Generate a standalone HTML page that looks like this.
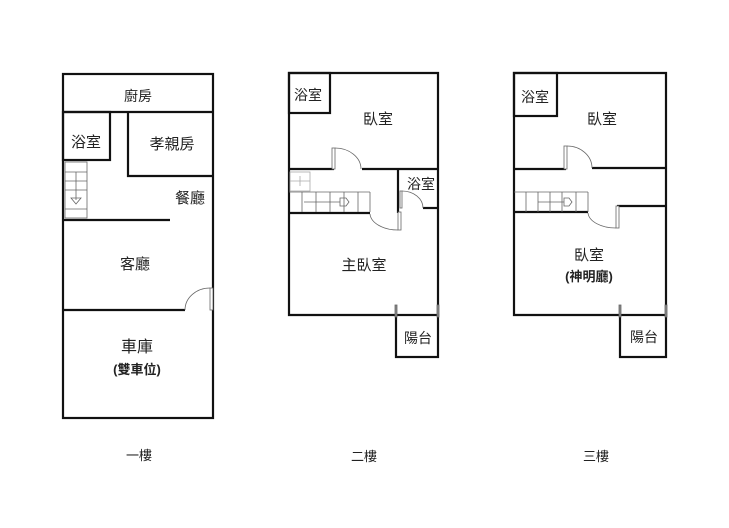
<!DOCTYPE html>
<html><head><meta charset="utf-8"><style>
html,body{margin:0;padding:0;background:#fff;width:729px;height:528px;overflow:hidden}
svg text{font-family:"Liberation Sans","Noto Sans CJK TC",sans-serif;fill:#222;text-anchor:middle}
</style></head><body>
<svg width="729" height="528" viewBox="0 0 729 528" xmlns="http://www.w3.org/2000/svg">
<g fill="none" stroke="#111" stroke-width="2.2">
<rect x="63" y="74" width="150" height="344"/>
<line x1="63" y1="112" x2="213" y2="112"/>
<rect x="63" y="112" width="47" height="48"/>
<polyline points="128,112 128,176 213,176"/>
<line x1="63" y1="220" x2="170" y2="220"/>
<line x1="63" y1="310" x2="185" y2="310"/>
</g>
<g fill="none" stroke="#666" stroke-width="0.8">
<rect x="65" y="162" width="22" height="56"/>
<line x1="65" y1="172" x2="87" y2="172"/><line x1="65" y1="181" x2="87" y2="181"/>
<line x1="65" y1="190" x2="87" y2="190"/><line x1="65" y1="209" x2="87" y2="209"/>
<line x1="76" y1="172" x2="76" y2="200"/>
<polygon points="71,198 81,198 76,204"/>
<path d="M185,310 A25,22 0 0 1 210,288"/>
<rect x="210" y="288" width="3" height="22" fill="#fff"/>
</g>
<g fill="none" stroke="#111" stroke-width="2.2">
<polyline points="396,315 289,315 289,73 438,73 438,315"/>
<rect x="289" y="73" width="41" height="40"/>
<line x1="289" y1="169" x2="334" y2="169"/>
<line x1="362" y1="169" x2="438" y2="169"/>
<line x1="398" y1="169" x2="398" y2="213"/>
<line x1="423" y1="208" x2="438" y2="208"/>
<line x1="289" y1="213" x2="370" y2="213"/>
<rect x="396" y="315" width="42" height="42"/>
</g>
<g fill="none" stroke="#666" stroke-width="0.8">
<rect x="332" y="148" width="3" height="21" fill="#fff"/>
<path d="M335,148 A26,21 0 0 1 361,169"/>
<rect x="398" y="212" width="3" height="18" fill="#fff"/>
<path d="M370,214 A28,17 0 0 0 398,230"/>
<rect x="400" y="191" width="2" height="17"/>
<path d="M402,191 A21,17 0 0 1 423,208"/>
<rect x="290" y="172" width="20" height="19" stroke="#aaa"/>
<line x1="300" y1="176" x2="300" y2="186" stroke="#aaa"/><line x1="290" y1="181" x2="310" y2="181" stroke="#aaa"/>
<line x1="302" y1="192" x2="302" y2="212"/><line x1="316" y1="192" x2="316" y2="212"/>
<line x1="330" y1="192" x2="330" y2="212"/><line x1="344" y1="192" x2="344" y2="212"/>
<line x1="358" y1="192" x2="358" y2="212"/><line x1="289" y1="192" x2="370" y2="192"/>
<line x1="370" y1="192" x2="370" y2="212"/><line x1="304" y1="202" x2="340" y2="202"/>
<polygon points="340,198 346,198 349,202 346,206 340,206"/>
<rect x="395" y="305" width="2" height="12" fill="#888"/>
<rect x="437" y="305" width="2" height="12" fill="#888"/>
</g>
<g fill="none" stroke="#111" stroke-width="2.2">
<polyline points="620,315 514,315 514,73 666,73 666,315"/>
<rect x="514" y="73" width="43" height="43"/>
<line x1="514" y1="169" x2="566" y2="169"/>
<line x1="592" y1="168" x2="666" y2="168"/>
<line x1="514" y1="212" x2="588" y2="212"/>
<line x1="617" y1="206" x2="666" y2="206"/>
<rect x="620" y="315" width="46" height="42"/>
</g>
<g fill="none" stroke="#666" stroke-width="0.8">
<rect x="564" y="146" width="3" height="23" fill="#fff"/>
<path d="M567,146 A25,22 0 0 1 592,168"/>
<rect x="616" y="206" width="3" height="22" fill="#fff"/>
<path d="M588,213 A28,16 0 0 0 616,228"/>
<line x1="514" y1="192" x2="588" y2="192"/><line x1="588" y1="192" x2="588" y2="212"/>
<line x1="526" y1="192" x2="526" y2="212"/><line x1="538" y1="192" x2="538" y2="212"/>
<line x1="550" y1="192" x2="550" y2="212"/><line x1="562" y1="192" x2="562" y2="212"/>
<line x1="576" y1="192" x2="576" y2="212"/><line x1="538" y1="202" x2="564" y2="202"/>
<polygon points="564,198 569,198 572,202 569,206 564,206"/>
<rect x="619" y="305" width="2" height="12" fill="#888"/>
<rect x="665" y="305" width="2" height="12" fill="#888"/>
</g>
<g font-size="15">
<text x="138" y="101" fill="#444" font-size="14">廚房</text>
<text x="86" y="147">浴室</text>
<text x="172" y="149">孝親房</text>
<text x="190" y="203">餐廳</text>
<text x="135" y="269">客廳</text>
<text x="137" y="352" font-size="16">車庫</text>
<text x="137" y="374" font-weight="bold" font-size="13">(雙車位)</text>
<text x="308" y="100" font-size="14">浴室</text>
<text x="378" y="124">臥室</text>
<text x="421" y="189" font-size="14">浴室</text>
<text x="364" y="270">主臥室</text>
<text x="418" y="343" font-size="14">陽台</text>
<text x="535" y="102" font-size="14">浴室</text>
<text x="602" y="124">臥室</text>
<text x="589" y="260">臥室</text>
<text x="589" y="281" font-weight="bold" font-size="13">(神明廳)</text>
<text x="644" y="342" font-size="14">陽台</text>
<text x="139" y="460" font-size="13">一樓</text>
<text x="364" y="461" font-size="13">二樓</text>
<text x="596" y="461" font-size="13">三樓</text>
</g>
</svg>
</body></html>
